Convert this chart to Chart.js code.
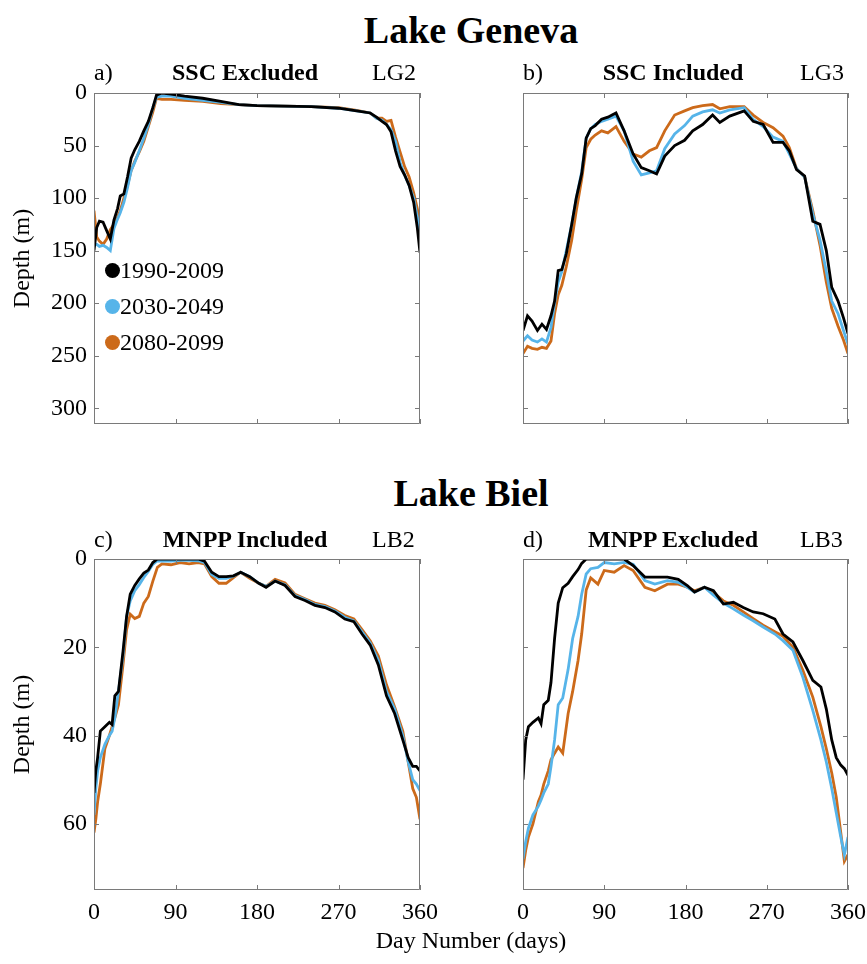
<!DOCTYPE html>
<html>
<head>
<meta charset="utf-8">
<script src="https://cdn.jsdelivr.net/npm/chart.js@4.4.1/dist/chart.umd.min.js"></script>
<style>
  body { margin: 0; background: #fff; }
  #wrap { position: relative; width: 867px; height: 964px; overflow: hidden;
          font-family: "Liberation Serif", "Times New Roman", serif; color: #000; }
  canvas { position: absolute; }
  .t { position: absolute; white-space: nowrap; line-height: 1; font-size: 24px; }
  .big { font-weight: bold; font-size: 38px; width: 400px; text-align: center; left: 271px; }
  .sub { font-weight: bold; width: 300px; text-align: center; }
  .dot { position: absolute; width: 15px; height: 15px; border-radius: 50%; }
</style>
</head>
<body>
<div id="wrap">
  <canvas id="pa" width="440" height="352" style="left:0;top:80px"></canvas>
  <canvas id="pb" width="435" height="352" style="left:432px;top:80px"></canvas>
  <canvas id="pc" width="440" height="390" style="left:0;top:546px"></canvas>
  <canvas id="pd" width="435" height="390" style="left:432px;top:546px"></canvas>

  <div class="t big" style="top:11px">Lake Geneva</div>
  <div class="t big" style="top:474px">Lake Biel</div>

  <div class="t" style="left:94px;top:60px">a)</div>
  <div class="t sub" style="left:95px;top:60px">SSC Excluded</div>
  <div class="t" style="left:372px;top:60px">LG2</div>
  <div class="t" style="left:523px;top:60px">b)</div>
  <div class="t sub" style="left:523px;top:60px">SSC Included</div>
  <div class="t" style="left:800px;top:60px">LG3</div>

  <div class="t" style="left:94px;top:527px">c)</div>
  <div class="t sub" style="left:95px;top:527px">MNPP Included</div>
  <div class="t" style="left:372px;top:527px">LB2</div>
  <div class="t" style="left:523px;top:527px">d)</div>
  <div class="t sub" style="left:523px;top:527px">MNPP Excluded</div>
  <div class="t" style="left:800px;top:527px">LB3</div>

  <div class="t" style="left:271px;width:400px;text-align:center;top:928px">Day Number (days)</div>

  <div id="legend"></div>
</div>
<script>
// series labels and colours
var periods = ["1990-2009", "2030-2049", "2080-2099"];
var colors = ["#000000", "#56B4E9", "#CC6A1A"];

// x axis ticks (day number)
var xTicks = [0, 90, 180, 270, 360];
var yTicksGeneva = [0, 50, 100, 150, 200, 250, 300];
var yTicksBiel = [0, 20, 40, 60];

// a) Lake Geneva, SSC excluded (LG2)
var daysA = [0, 3, 6, 10, 14, 18, 22, 26, 29, 33, 37, 41, 45, 50, 55, 60, 65, 69, 75, 85, 100, 120, 140, 160, 180, 210, 240, 270, 290, 305, 312, 318, 323, 328, 333, 338, 343, 348, 353, 357, 360];
var blackA = [150, 128, 122, 123, 131, 139, 121, 110, 98, 96, 80, 62, 54, 46, 36, 27, 14, 2, 0, 1, 3, 5, 8, 11, 12, 12.5, 13, 14.5, 17, 19, 23, 27, 30, 37, 55, 70, 78, 88, 104, 128, 152];
var blueA = [145, 144, 146, 145, 147, 150, 129, 120, 114, 104, 90, 74, 66, 55, 43, 30, 14, 4, 3, 3, 5, 7, 9, 11, 12, 12.5, 13, 14.5, 17, 19, 24, 26, 30, 35, 46, 66, 78, 88, 100, 118, 135];
var orangeA = [112, 137, 141, 144, 139, 130, 125, 118, 112, 100, 88, 74, 65, 56, 46, 32, 18, 5, 6, 6, 7, 8, 10, 11, 12, 12.5, 13, 14, 16.5, 19, 24, 24, 27, 26, 42, 56, 70, 80, 95, 110, 124];

// b) Lake Geneva, SSC included (LG3)
var daysB = [0, 5, 10, 16, 21, 26, 31, 35, 39, 43, 48, 54, 59, 65, 70, 75, 80, 87, 94, 103, 112, 122, 131, 140, 148, 157, 168, 179, 188, 199, 210, 218, 229, 245, 255, 266, 277, 288, 295, 303, 312, 321, 329, 336, 342, 349, 355, 360];
var blackB = [226, 212, 217, 226, 220, 225, 212, 198, 169, 168, 153, 125, 100, 77, 43, 34, 31, 25, 23, 19, 36, 58, 71, 74, 77, 60, 50, 45, 36, 30, 21, 28, 22, 17, 27, 30, 47, 47, 55, 73, 79, 122, 125, 150, 185, 198, 214, 229];
var blueB = [236, 231, 235, 237, 234, 237, 223, 200, 180, 170, 150, 125, 100, 75, 43, 34, 30, 27, 25, 22, 36, 65, 78, 76, 74, 53, 39, 31, 22, 18, 16, 19, 16, 14, 25, 32, 42, 46, 58, 72, 80, 115, 140, 170, 198, 210, 226, 239];
var orangeB = [248, 241, 243, 244, 242, 243, 236, 210, 192, 183, 165, 140, 112, 82, 52, 44, 40, 36, 38, 32, 46, 58, 61, 55, 52, 36, 21, 17, 14, 12, 11, 15, 13, 13, 21, 28, 33, 41, 52, 72, 80, 112, 145, 180, 205, 222, 235, 248];

// c) Lake Biel, MNPP included (LB2)
var daysC = [0, 2, 4, 7, 12, 17, 20, 23, 27, 32, 36, 40, 45, 50, 55, 60, 65, 70, 75, 85, 95, 105, 115, 122, 130, 138, 146, 154, 162, 172, 182, 190, 200, 211, 222, 233, 244, 255, 266, 277, 287, 296, 305, 314, 323, 332, 341, 347, 352, 356, 360];
var blackC = [53, 48, 45, 39, 38, 37, 37.5, 31, 30, 21, 13, 8, 6, 4.5, 3.2, 2.5, 0.8, 0, 0, 0, 0, 0, 0, 0.5, 3, 4, 4, 3.8, 3, 4, 5.5, 6.4, 5, 6, 8.5, 9.4, 10.5, 11, 12, 13.6, 14.2, 17, 19.5, 24, 31, 35, 41, 45, 47, 47, 48];
var blueC = [58, 52, 48, 45, 42, 40, 39, 36, 30, 22, 13, 9.5, 7.2, 5.8, 4.2, 2.8, 1.2, 0.4, 0.5, 0.5, 0.3, 0.3, 0.4, 0.8, 3.5, 4.4, 4.4, 3.9, 3, 4, 5.5, 6.2, 5, 5.8, 8.3, 9.2, 10.3, 10.8, 11.8, 13.2, 14, 16.5, 19, 23, 30, 34, 40, 46, 50, 51, 52.5];
var orangeC = [62, 59, 55, 51, 43, 40, 38, 36, 33, 24, 16, 12.5, 13.5, 13, 10, 8.5, 5, 1.9, 1.1, 1.3, 0.8, 1.1, 0.8, 1.1, 4, 5.5, 5.5, 4.2, 3, 4.4, 5.5, 6.2, 4.6, 5.4, 8, 9, 10, 10.5, 11.5, 12.8, 13.6, 16, 18.5, 22, 28.5, 33.5, 39, 46, 52, 54, 59];

// d) Lake Biel, MNPP excluded (LB3)
var daysD = [0, 3, 6, 11, 17, 20, 23, 28, 31, 35, 39, 44, 50, 55, 61, 65, 70, 75, 83, 90, 101, 112, 122, 135, 146, 160, 172, 182, 190, 201, 211, 222, 233, 244, 255, 266, 279, 288, 299, 310, 321, 330, 336, 342, 347, 352, 356, 360];
var blackD = [50, 41, 38, 37, 36, 37.3, 33, 32, 28, 18, 10, 6.5, 5.5, 4, 2.4, 1, 0, 0, 0, 0, 0, 0, 1.5, 4.1, 4.1, 4.1, 4.6, 6, 7.5, 6.4, 7.2, 10.2, 9.8, 11, 12, 12.4, 13.6, 17, 18.8, 23, 27.5, 29, 34, 41, 45, 46.7, 47.5, 49];
var blueD = [68, 64, 61, 58, 56, 54.6, 53, 51, 47, 41, 33, 31.5, 25, 18, 13, 8, 3.4, 2.2, 1.9, 0.8, 1.1, 0.75, 1.2, 4.9, 5.7, 4.9, 5.3, 6.4, 7.5, 6.4, 8.2, 10, 11.3, 12.7, 14, 15.4, 17, 18.5, 20.7, 26.8, 34.3, 41, 46, 52, 57.5, 63, 67, 63];
var orangeD = [70, 66, 63, 60, 55, 53.5, 51, 48, 45.5, 44, 42.6, 44, 35, 30, 23, 17, 7, 4.3, 5.7, 2.6, 3, 1.5, 2.6, 6.4, 7.2, 5.7, 5.7, 6.4, 7.2, 6.4, 7.6, 9.5, 10.5, 12, 13.5, 15, 16.5, 17.5, 20, 25.2, 31.3, 38, 43, 48.5, 54, 62, 68.5, 67];

Chart.defaults.font.family = '"Liberation Serif", "Times New Roman", serif';
Chart.defaults.font.size = 24;
Chart.defaults.color = '#000';

// matlab style box with inward ticks on all four sides
var boxTicks = {
    id: 'boxTicks',
    afterDatasetsDraw: function(chart) {
        var ctx = chart.ctx, a = chart.chartArea;
        var x = chart.scales.x, y = chart.scales.y;
        ctx.save();
        ctx.strokeStyle = '#7a7a7a';
        ctx.lineWidth = 1;
        ctx.beginPath();
        x.ticks.forEach(function(t) {
            var px = Math.round(x.getPixelForValue(t.value)) + 0.5;
            ctx.moveTo(px, a.bottom); ctx.lineTo(px, a.bottom - 5);
            ctx.moveTo(px, a.top); ctx.lineTo(px, a.top + 5);
        });
        y.ticks.forEach(function(t) {
            var py = Math.round(y.getPixelForValue(t.value)) + 0.5;
            ctx.moveTo(a.left, py); ctx.lineTo(a.left + 5, py);
            ctx.moveTo(a.right, py); ctx.lineTo(a.right - 5, py);
        });
        ctx.rect(a.left + 0.5, a.top + 0.5, a.right - a.left - 1, a.bottom - a.top - 1);
        ctx.stroke();
        ctx.restore();
    }
};

function makePanel(id, days, series, yMax, yTicks, leftCol, bottomRow) {
    var datasets = series.map(function(vals, i) {
        return {
            label: periods[i],
            data: days.map(function(d, j) { return {x: d, y: vals[j]}; }),
            borderColor: colors[i],
            borderWidth: 2.8,
            pointRadius: 0,
            tension: 0,
            fill: false
        };
    });
    new Chart(document.getElementById(id), {
        type: 'line',
        data: { datasets: datasets },
        options: {
            responsive: false,
            animation: false,
            layout: { padding: { top: 13, right: leftCol ? 20 : 19, left: 0, bottom: 0 } },
            plugins: { legend: { display: false }, tooltip: { enabled: false } },
            scales: {
                x: {
                    type: 'linear', min: 0, max: 360,
                    grid: { display: false, drawTicks: false },
                    border: { display: false },
                    ticks: { display: bottomRow, padding: 8, maxRotation: 0, autoSkip: false },
                    afterBuildTicks: function(s) { s.ticks = xTicks.map(function(v) { return {value: v}; }); },
                    afterFit: function(s) {
                        s.height = bottomRow ? 46 : 8;
                        s.paddingLeft = 0; s.paddingRight = 0;
                    }
                },
                y: {
                    type: 'linear', reverse: true, min: 0, max: yMax,
                    grid: { display: false, drawTicks: false },
                    border: { display: false },
                    ticks: { display: leftCol, padding: 7 },
                    title: { display: leftCol, text: 'Depth (m)', padding: { top: 8, bottom: 0 } },
                    afterBuildTicks: function(s) { s.ticks = yTicks.map(function(v) { return {value: v}; }); },
                    afterFit: function(s) {
                        s.width = leftCol ? 94 : 91;
                        s.paddingTop = 0; s.paddingBottom = 0;
                    }
                }
            }
        },
        plugins: [boxTicks]
    });
}

makePanel('pa', daysA, [blackA, blueA, orangeA], 315, yTicksGeneva, true, false);
makePanel('pb', daysB, [blackB, blueB, orangeB], 315, yTicksGeneva, false, false);
makePanel('pc', daysC, [blackC, blueC, orangeC], 75, yTicksBiel, true, true);
makePanel('pd', daysD, [blackD, blueD, orangeD], 75, yTicksBiel, false, true);

// legend inside panel a
var legendTop = [270, 306, 342];
var lg = document.getElementById('legend');
periods.forEach(function(p, i) {
    var dot = document.createElement('div');
    dot.className = 'dot';
    dot.style.background = colors[i];
    dot.style.left = '105px';
    dot.style.top = (legendTop[i] - 7) + 'px';
    lg.appendChild(dot);
    var txt = document.createElement('div');
    txt.className = 't';
    txt.textContent = p;
    txt.style.left = '120px';
    txt.style.top = (legendTop[i] - 12) + 'px';
    lg.appendChild(txt);
});
</script>
</body>
</html>
